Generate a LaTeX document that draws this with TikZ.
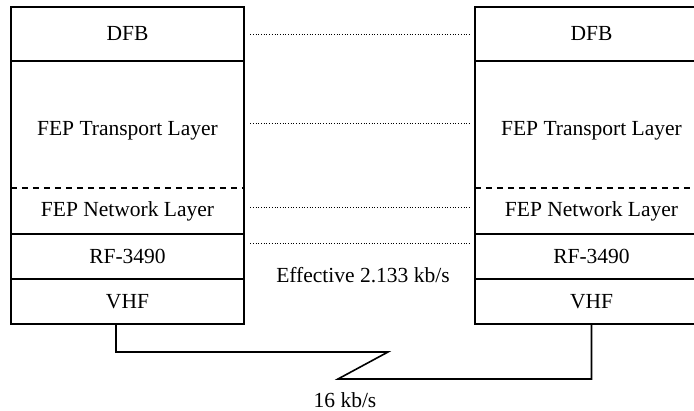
\documentclass[tikz,border=0pt]{standalone}
\usepackage{fontspec}
\setmainfont{Liberation Serif}
\begin{document}
\begin{tikzpicture}[x=1pt,y=1pt,
    layer/.style={minimum width=233pt, inner sep=0pt, font=\fontsize{21.5}{24}\selectfont},
    box/.style={line width=1.6pt},
    peer/.style={dotted, line width=0.7pt},
    link/.style={line width=1.6pt}]
    \useasboundingbox (0,0) rectangle (694,411);
    % Protocol stacks
    \foreach \s/\x in {l/127.5, r/591.5} {
        \node[layer, minimum height=54pt] (\s-dfb) at (\x,377) {DFB};
        \node[layer, minimum height=127pt, text height=26pt] (\s-trans) at (\x,286.5) {FEP Transport Layer};
        \node[layer, minimum height=46pt] (\s-net) at (\x,200) {FEP Network Layer};
        \node[layer, minimum height=45pt] (\s-rf) at (\x,154.5) {RF-3490};
        \node[layer, minimum height=45pt] (\s-vhf) at (\x,109.5) {VHF};
        \draw[box] (\s-dfb.north west) rectangle (\s-vhf.south east);
        \draw[box] (\s-dfb.south west) -- (\s-dfb.south east);
        \draw[box, dash pattern=on 6pt off 5pt] (\s-trans.south west) -- (\s-trans.south east);
        \draw[box] (\s-net.south west) -- (\s-net.south east);
        \draw[box] (\s-rf.south west) -- (\s-rf.south east);
    }
    % Peer links
    \draw[peer] ([xshift=6pt]l-dfb.east) -- ([xshift=-5pt]r-dfb.west);
    \draw[peer] ([xshift=6pt,yshift=1.5pt]l-trans.east) -- ([xshift=-5pt,yshift=1.5pt]r-trans.west);
    \draw[peer] ([xshift=6pt,yshift=4pt]l-net.east) -- ([xshift=-5pt,yshift=4pt]r-net.west);
    \draw[peer] ([xshift=6pt,yshift=13.5pt]l-rf.east) -- ([xshift=-5pt,yshift=13.5pt]r-rf.west);
    \node[font=\fontsize{21.5}{24}\selectfont] (eff) at (363,136) {Effective 2.133 kb/s};
    % Radio link
    \coordinate (zig1) at (388,59);
    \coordinate (zig2) at (338,32);
    \draw[link] ([xshift=-11.5pt]l-vhf.south) |- (zig1) -- (zig2) -| (r-vhf.south);
    \node[font=\fontsize{21.5}{24}\selectfont] (rate) at (345,11) {16 kb/s};
\end{tikzpicture}
\end{document}
